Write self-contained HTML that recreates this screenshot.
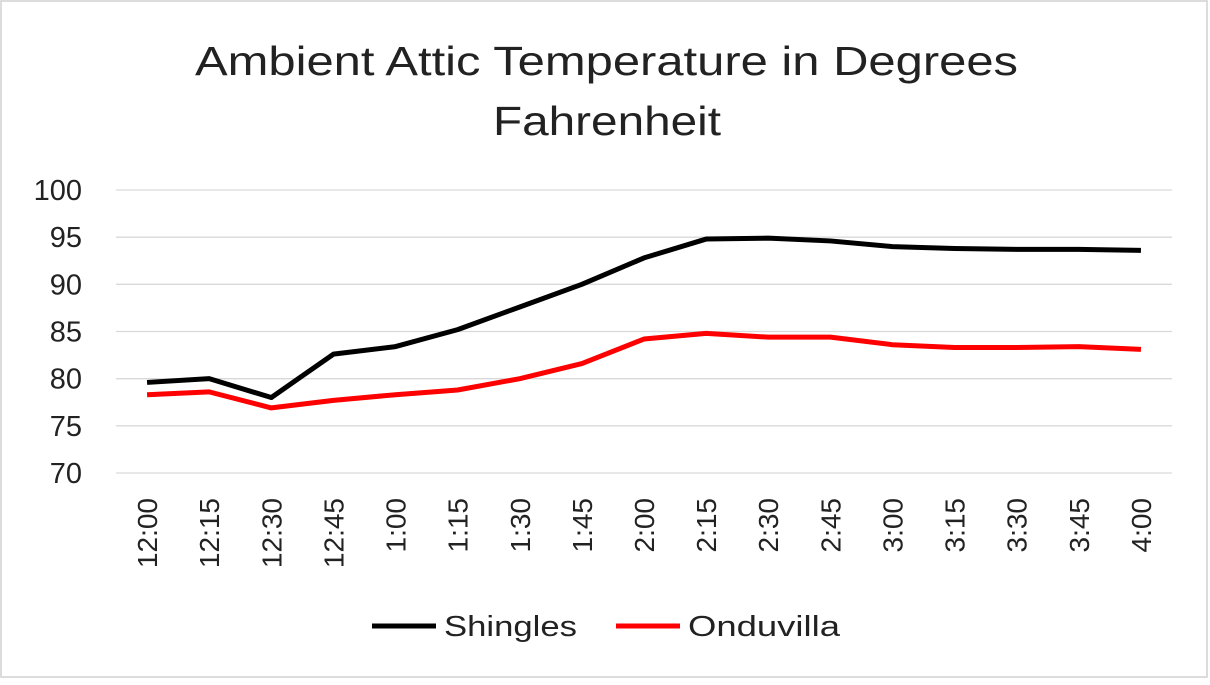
<!DOCTYPE html>
<html><head><meta charset="utf-8"><style>
body{margin:0;background:#fff;}
svg text{font-family:"Liberation Sans",sans-serif;}
</style></head><body>
<svg id="chart" width="1210" height="680" xmlns="http://www.w3.org/2000/svg">
<rect x="1" y="1" width="1206" height="676" fill="#fff" stroke="#d0d0d0" stroke-width="1.5"/>
<text x="195" y="75" font-size="41" textLength="823" lengthAdjust="spacingAndGlyphs" fill="#222">Ambient Attic Temperature in Degrees</text>
<text x="493" y="135" font-size="41" textLength="228" lengthAdjust="spacingAndGlyphs" fill="#222">Fahrenheit</text>
<g id="grid"></g><g id="yticks"></g><g id="xticks"></g><g id="series"></g>
<g>
<line x1="372" y1="626" x2="436" y2="626" stroke="#000" stroke-width="5"/>
<text x="444" y="636" font-size="29" textLength="133" lengthAdjust="spacingAndGlyphs" fill="#222">Shingles</text>
<line x1="616" y1="626" x2="680" y2="626" stroke="#f00" stroke-width="5"/>
<text x="688" y="636" font-size="29" textLength="152" lengthAdjust="spacingAndGlyphs" fill="#222">Onduvilla</text>
</g>
</svg>
<script>
const categories=["12:00","12:15","12:30","12:45","1:00","1:15","1:30","1:45","2:00","2:15","2:30","2:45","3:00","3:15","3:30","3:45","4:00"];
const shingles=[79.6,80.0,78.0,82.6,83.4,85.2,87.6,90.0,92.8,94.8,94.9,94.6,94.0,93.8,93.7,93.7,93.6];
const onduvilla=[78.3,78.6,76.9,77.7,78.3,78.8,80.0,81.6,84.2,84.8,84.4,84.4,83.6,83.3,83.3,83.4,83.1];
const yTicks=[70,75,80,85,90,95,100];
const NS="http://www.w3.org/2000/svg";
const L=116,R=1172,T=190,B=473,ymin=70,ymax=100;
const y=v=>B-(v-ymin)/(ymax-ymin)*(B-T);
const cw=(R-L)/categories.length;
const x=i=>L+cw*(i+0.5);
function mk(tag,attrs,parent){const e=document.createElementNS(NS,tag);for(const k in attrs)e.setAttribute(k,attrs[k]);document.getElementById(parent).appendChild(e);return e;}
yTicks.forEach(t=>{
 const g=mk("line",{x1:L,x2:R,y1:y(t),y2:y(t),stroke:"#d9d9d9","stroke-width":1.3},"grid");
 
 
 const tx=mk("text",{x:82,y:y(t)+10,"font-size":29,"text-anchor":"end",fill:"#222"},"yticks");
 
 
 tx.textContent=t;
});
categories.forEach((c,i)=>{
 const tx=mk("text",{transform:`translate(${x(i)+10},498) rotate(-90)`,"font-size":28,"text-anchor":"end",fill:"#222"},"xticks");
 
 
 tx.textContent=c;
});
[[shingles,"#000","shingles-line"],[onduvilla,"#f00","onduvilla-line"]].forEach(([d,col,n])=>{
 const p=mk("polyline",{points:d.map((v,i)=>x(i)+","+y(v)).join(" "),fill:"none",stroke:col,"stroke-width":5,"stroke-linejoin":"round"},"series");
 
 
});
</script>
</body></html>
